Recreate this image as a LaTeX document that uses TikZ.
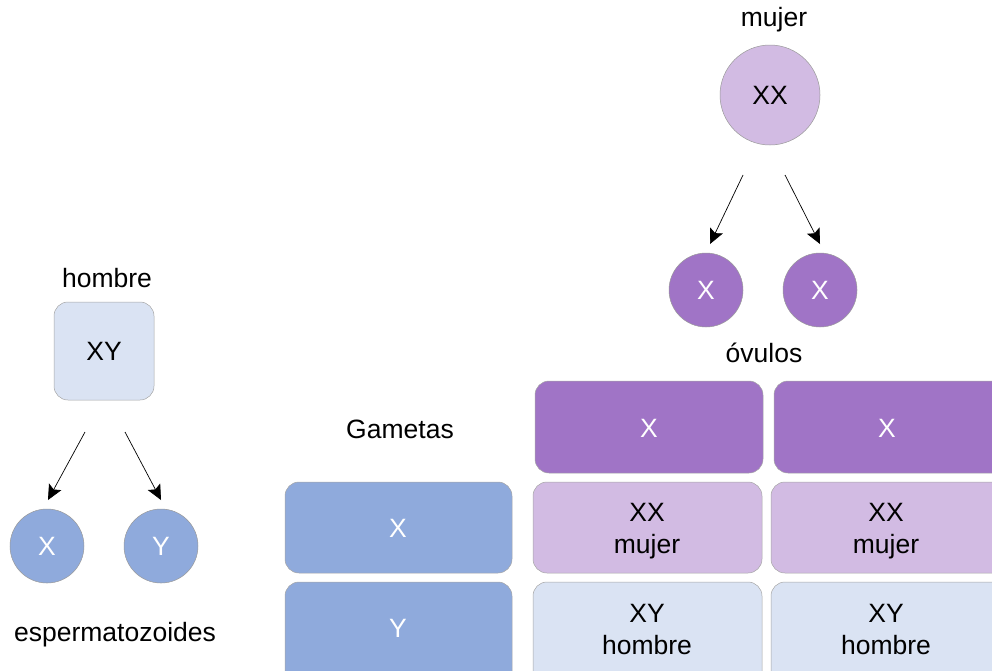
\documentclass[tikz,border=0pt]{standalone}
\usepackage{fontspec}
\setmainfont{Liberation Sans}
\usetikzlibrary{arrows.meta}
\definecolor{dpurple}{HTML}{A074C6}
\definecolor{lpurple}{HTML}{D2BBE3}
\definecolor{lblue}{HTML}{DAE3F3}
\definecolor{mblue}{HTML}{8FAADC}
\tikzset{
  lbl/.style={font=\fontsize{26.5}{30}\selectfont, inner sep=0pt},
  circ/.style={circle, draw=gray!80, line width=0.5pt, font=\fontsize{26.5}{30}\selectfont, inner sep=0pt},
  cell/.style={rounded corners=14pt, draw=gray!70, line width=0.5pt},
  celltext/.style={font=\fontsize{26.5}{32}\selectfont, align=center, inner sep=0pt},
  arr/.style={-{Stealth[length=15pt,width=14pt,inset=3pt]}, line width=0.7pt, black}
}
\begin{document}
\begin{tikzpicture}[x=1pt,y=-1pt]
\useasboundingbox (0,0) rectangle (992,670);
\begin{scope}
\clip (0,0) rectangle (992,670);
% mujer
\node[lbl] (tmujer) at (774,20) {mujer};
\node[circ, fill=lpurple, minimum size=100pt] (xx) at (770,95) {XX};
\coordinate (a1s) at (743,175);
\coordinate (a2s) at (785,175);
\node[circ, fill=dpurple, text=white, minimum size=74pt] (o1) at (706,290) {X};
\node[circ, fill=dpurple, text=white, minimum size=74pt] (o2) at (820,290) {X};
\coordinate (a1e) at (710,244);
\coordinate (a2e) at (820,244);
\draw[arr] (a1s) -- (a1e);
\draw[arr] (a2s) -- (a2e);
\node[lbl] (tovulos) at (764,353) {óvulos};
% hombre
\node[lbl] (thombre) at (107,278) {hombre};
\draw[cell, fill=lblue] (54,302) rectangle (154,400);
\node[celltext] (xy) at (104,351) {XY};
\coordinate (b1s) at (85,432);
\coordinate (b2s) at (125,432);
\coordinate (b1e) at (48,500);
\coordinate (b2e) at (161,500);
\draw[arr] (b1s) -- (b1e);
\draw[arr] (b2s) -- (b2e);
\node[circ, fill=mblue, text=white, minimum size=74pt] (s1) at (47,546) {X};
\node[circ, fill=mblue, text=white, minimum size=74pt] (s2) at (161,546) {Y};
\node[lbl] (tesp) at (115,635) {espermatozoides};
% table
\node[lbl] (tgam) at (400,429) {Gametas};
\draw[cell, fill=dpurple] (535,381) rectangle (763,473);
\node[celltext, text=white] at (649,428) {X};
\draw[cell, fill=dpurple] (774,381) rectangle (1010,473);
\node[celltext, text=white] at (887,428) {X};
\draw[cell, fill=mblue] (285,482) rectangle (512,573);
\node[celltext, text=white] at (398,528) {X};
\draw[cell, fill=mblue] (285,582) rectangle (512,685);
\node[celltext, text=white] at (398,628) {Y};
\draw[cell, fill=lpurple] (533,482) rectangle (762,573);
\node[celltext] at (647,531) {XX\\mujer};
\draw[cell, fill=lpurple] (771,482) rectangle (1010,573);
\node[celltext] at (886,531) {XX\\mujer};
\draw[cell, fill=lblue] (533,582) rectangle (762,685);
\node[celltext] at (647,629) {XY\\hombre};
\draw[cell, fill=lblue] (771,582) rectangle (1010,685);
\node[celltext] at (886,629) {XY\\hombre};
\end{scope}
\end{tikzpicture}
\end{document}
